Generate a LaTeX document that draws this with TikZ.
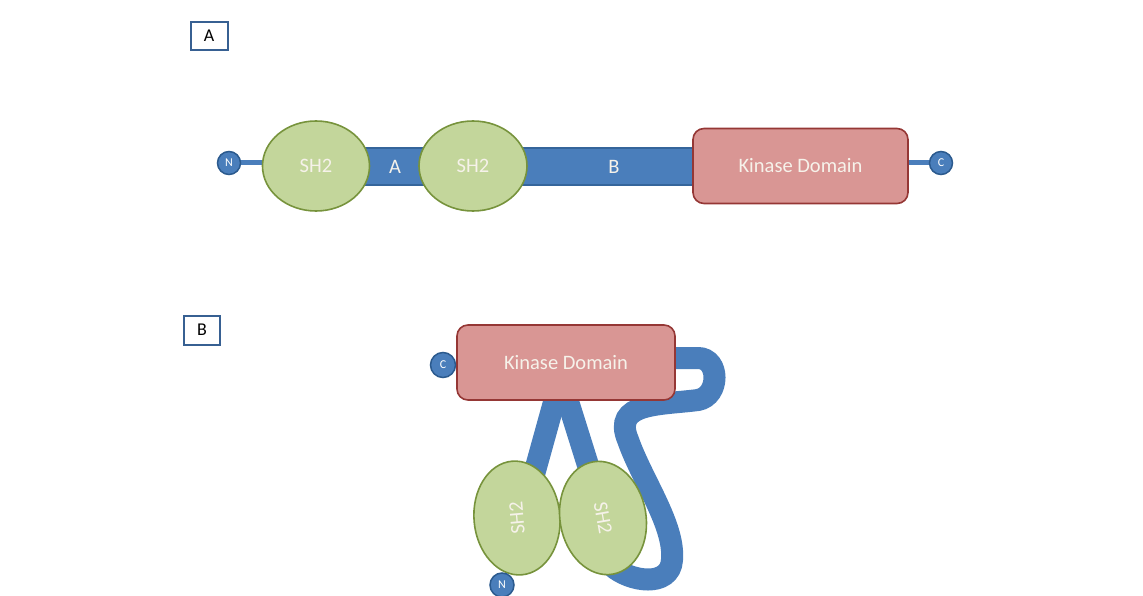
\documentclass[tikz,border=0pt]{standalone}
\usepackage{fontspec}
\setmainfont{Carlito}
\usetikzlibrary{shapes.geometric}
\definecolor{tubeblue}{HTML}{4A7EBB}
\definecolor{tubeedge}{HTML}{35659B}
\definecolor{circfill}{HTML}{4A7EBB}
\definecolor{circedge}{HTML}{2B5A8E}
\definecolor{shfill}{HTML}{C3D69B}
\definecolor{shedge}{HTML}{77933C}
\definecolor{kfill}{HTML}{D99694}
\definecolor{kedge}{HTML}{953735}
\definecolor{boxedge}{HTML}{376092}
\definecolor{lbl}{HTML}{F6F2EA}
\tikzset{
  labelbox/.style={draw=boxedge, line width=2pt, fill=white, minimum width=37pt, minimum height=28pt, inner sep=0pt, font=\fontsize{18}{20}\selectfont},
  terminus/.style={circle, fill=circfill, draw=circedge, line width=1.5pt, minimum size=23pt, inner sep=0pt, text=white, font=\fontsize{12}{14}\selectfont},
  sh/.style={ellipse, fill=shfill, draw=shedge, line width=1.6pt, inner sep=0pt, text=lbl, font=\fontsize{20.5}{24}\selectfont},
  kinase/.style={rectangle, rounded corners=11pt, fill=kfill, draw=kedge, line width=1.6pt, inner sep=0pt, text=lbl, font=\fontsize{20.5}{24}\selectfont},
  thin/.style={draw=tubeblue, line width=5pt},
  tube/.style={draw=tubeblue, line width=22pt},
  barlbl/.style={text=lbl, font=\fontsize{20.5}{24}\selectfont},
}
\begin{document}
\begin{tikzpicture}[x=1pt,y=-1pt]
\useasboundingbox (0,0) rectangle (1143,596);
% ---------------- Panel A ----------------
\node[labelbox] (boxA) at (209,36) {A};
\coordinate (barL) at (340,148);
\coordinate (barR) at (700,185);
\coordinate (nApos) at (229,163);
\coordinate (cApos) at (941,163);
\fill[tubeblue] (barL) rectangle (barR);
\draw[tubeedge, line width=1.5pt] (barL) -- (barL -| barR) (barR -| barL) -- (barR);
\draw[thin] (nApos) -- (nApos -| 300,0);
\draw[thin] (cApos) -- (cApos -| 850,0);
\node[sh, minimum width=107pt, minimum height=90pt] (shA1) at (316,166) {SH2};
\node[sh, minimum width=108pt, minimum height=90pt] (shA2) at (473,166) {SH2};
\node[kinase, minimum width=215pt, minimum height=75pt] (kA) at (800.5,166) {Kinase Domain};
\node[terminus] (nA) at (nApos) {N};
\node[terminus] (cA) at (cApos) {C};
\node[barlbl] (lblA) at (395,167) {A};
\node[barlbl] (lblB) at (614,167) {B};
% ---------------- Panel B ----------------
\node[labelbox, minimum width=36pt, minimum height=29pt] (boxB) at (202,330) {B};
\coordinate (t0) at (660,358);
\coordinate (t1) at (698,358);
\coordinate (t2) at (698,400);
\coordinate (t3) at (628,440);
\coordinate (t4) at (672,560);
\coordinate (t5) at (612,566);
\draw[tube] (t0) -- (t1) .. controls (720,358) and (720,396) .. (t2)
  .. controls (660,405) and (612,402) .. (t3)
  .. controls (642,480) and (675,525) .. (t4)
  .. controls (670,588) and (630,582) .. (t5);
\coordinate (s0) at (556,395);
\coordinate (s1) at (533,478);
\coordinate (s2) at (566,395);
\coordinate (s3) at (592,478);
\draw[tube] (s0) -- (s1);
\draw[tube] (s2) -- (s3);
\node[kinase, minimum width=218pt, minimum height=75pt] (kB) at (566,362.5) {Kinase Domain};
\node[terminus, minimum size=25pt] (cB) at (443,365) {C};
\node[sh, minimum width=114pt, minimum height=86pt, rotate=95] (shB1) at (517,518) {SH2};
\node[sh, minimum width=114pt, minimum height=86pt, rotate=-80] (shB2) at (603,518) {SH2};
\node[terminus, minimum size=24pt] (nB) at (502,585) {N};
\end{tikzpicture}
\end{document}
